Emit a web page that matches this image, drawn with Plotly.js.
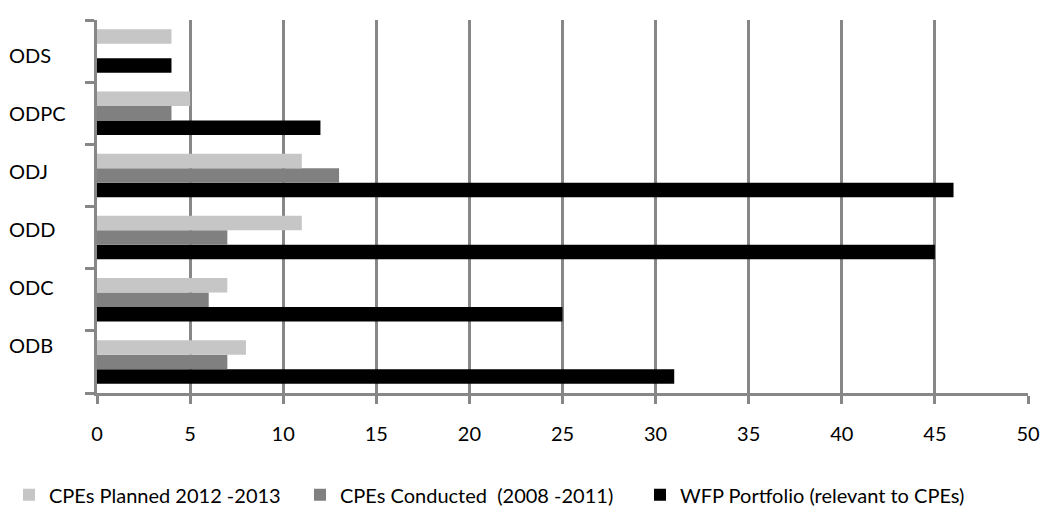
<!DOCTYPE html>
<html><head><meta charset="utf-8">
<script src="https://cdn.plot.ly/plotly-3.0.1.min.js"></script>
<style>html,body{margin:0;padding:0;background:#fff}</style>
</head><body><div id="chart" style="width:1045px;height:510px"></div>
<script>
const categories = ['ODB', 'ODC', 'ODD', 'ODJ', 'ODPC', 'ODS'];
const plannedValues = [8, 7, 11, 11, 5, 4];
const conductedValues = [7, 6, 7, 13, 4, 0];
const portfolioValues = [31, 25, 45, 46, 12, 4];
const seriesNames = ['CPEs Planned 2012 -2013', 'CPEs Conducted  (2008 -2011)', 'WFP Portfolio (relevant to CPEs)'];
const seriesColors = ['#c6c6c6', '#808080', '#000000'];
const xTickValues = [0, 5, 10, 15, 20, 25, 30, 35, 40, 45, 50];

const FONT = 'Lato, "Liberation Sans", sans-serif';
const FS = 20;
const GRID = '#878787';

const series = [
  {name: seriesNames[2], values: portfolioValues, color: seriesColors[2], legend: 'legend3'},
  {name: seriesNames[1], values: conductedValues, color: seriesColors[1], legend: 'legend2'},
  {name: seriesNames[0], values: plannedValues, color: seriesColors[0], legend: 'legend'}
];
const traces = series.map(s => ({
  type: 'bar', orientation: 'h', name: s.name, legend: s.legend,
  x: s.values, y: categories,
  marker: {color: s.color, line: {width: 0}},
  hoverinfo: 'x+name'
}));

// category labels (left aligned, as in the original)
const labelBottom = 0.129, labelStep = 0.1554;
const annotations = categories.map((c, i) => ({
  xref: 'paper', yref: 'paper', x: -0.097, xanchor: 'left',
  y: labelBottom + i * labelStep, yanchor: 'middle',
  text: c, showarrow: false, font: {family: FONT, size: FS, color: '#000'}
}));

function legendAt(xc) {
  return {
    orientation: 'h', xref: 'container', yref: 'container',
    x: xc, xanchor: 'left', y: 0.03, yanchor: 'middle',
    font: {family: FONT, size: FS, color: '#000'},
    bgcolor: 'rgba(0,0,0,0)', borderwidth: 0,
    itemclick: false, itemdoubleclick: false
  };
}

const layout = {
  width: 1045, height: 510,
  margin: {l: 97, r: 17, t: 20, b: 117, autoexpand: false},
  paper_bgcolor: '#fff', plot_bgcolor: '#fff',
  barmode: 'group', bargap: 0.3, bargroupgap: 0,
  showlegend: true,
  legend: legendAt(9 / 1045),
  legend2: legendAt(300 / 1045),
  legend3: legendAt(640 / 1045),
  font: {family: FONT, size: FS, color: '#000'},
  xaxis: {
    range: [0, 50], tickvals: xTickValues, ticktext: xTickValues.map(String),
    showgrid: true, gridcolor: GRID, gridwidth: 3,
    showline: true, linecolor: GRID, linewidth: 3,
    ticks: 'outside', ticklen: 8, tickwidth: 3, tickcolor: GRID,
    ticklabelstandoff: 13,
    tickfont: {family: FONT, size: FS, color: '#000'},
    zeroline: false, fixedrange: true
  },
  yaxis: {
    type: 'category', categoryorder: 'array', categoryarray: categories,
    range: [-0.5, categories.length - 0.5],
    showgrid: false, showline: true, linecolor: GRID, linewidth: 3,
    ticks: 'outside', ticklen: 9, tickwidth: 3, tickcolor: GRID,
    tickson: 'boundaries', showticklabels: false,
    zeroline: false, fixedrange: true
  },
  annotations: annotations
};

Plotly.newPlot('chart', traces, layout, {displayModeBar: false, staticPlot: true});
</script>
</body></html>
